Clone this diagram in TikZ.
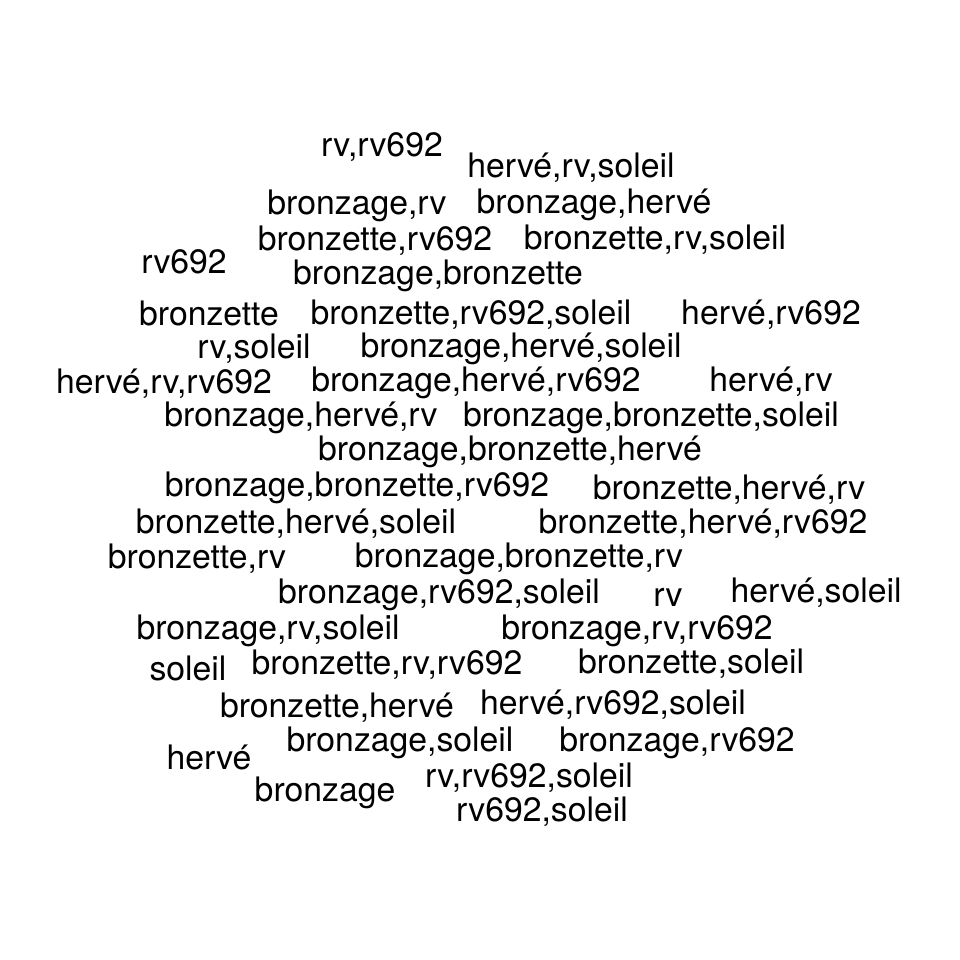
\documentclass[tikz,border=0pt]{standalone}
\usepackage{fontspec}
\setmainfont{TeX Gyre Heros}
\usepackage{tikz}

\tikzset{wd/.style={font=\fontsize{24}{28}\selectfont,inner sep=0pt,anchor=base}}

\begin{document}
\begin{tikzpicture}[x=0.025cm,y=-0.025cm]
			\useasboundingbox (0,0) rectangle (960,960);
			\node [wd] (w1) at (382,156) {rv,rv692};
			\node [wd] (w2) at (571,177) {hervé,rv,soleil};
			\node [wd] (w3) at (357,214) {bronzage,rv};
			\node [wd] (w4) at (594,213) {bronzage,hervé};
			\node [wd] (w5) at (375,250) {bronzette,rv692};
			\node [wd] (w6) at (655,249) {bronzette,rv,soleil};
			\node [wd] (w7) at (184,273) {rv692};
			\node [wd] (w8) at (438,284) {bronzage,bronzette};
			\node [wd] (w9) at (209,325) {bronzette};
			\node [wd] (w10) at (471,324) {bronzette,rv692,soleil};
			\node [wd] (w11) at (771,324) {hervé,rv692};
			\node [wd] (w12) at (254,358) {rv,soleil};
			\node [wd] (w13) at (521,357) {bronzage,hervé,soleil};
			\node [wd] (w14) at (164,393) {hervé,rv,rv692};
			\node [wd] (w15) at (476,391) {bronzage,hervé,rv692};
			\node [wd] (w16) at (771,391) {hervé,rv};
			\node [wd] (w17) at (301,426) {bronzage,hervé,rv};
			\node [wd] (w18) at (651,426) {bronzage,bronzette,soleil};
			\node [wd] (w19) at (510,460) {bronzage,bronzette,hervé};
			\node [wd] (w20) at (357,496) {bronzage,bronzette,rv692};
			\node [wd] (w21) at (729,499) {bronzette,hervé,rv};
			\node [wd] (w22) at (296,533) {bronzette,hervé,soleil};
			\node [wd] (w23) at (703,533) {bronzette,hervé,rv692};
			\node [wd] (w24) at (197,568) {bronzette,rv};
			\node [wd] (w25) at (519,567) {bronzage,bronzette,rv};
			\node [wd] (w26) at (439,603) {bronzage,rv692,soleil};
			\node [wd] (w27) at (668,606) {rv};
			\node [wd] (w28) at (816,602) {hervé,soleil};
			\node [wd] (w29) at (268,639) {bronzage,rv,soleil};
			\node [wd] (w30) at (637,639) {bronzage,rv,rv692};
			\node [wd] (w31) at (188,680) {soleil};
			\node [wd] (w32) at (387,674) {bronzette,rv,rv692};
			\node [wd] (w33) at (691,673) {bronzette,soleil};
			\node [wd] (w34) at (337,717) {bronzette,hervé};
			\node [wd] (w35) at (613,714) {hervé,rv692,soleil};
			\node [wd] (w36) at (400,751) {bronzage,soleil};
			\node [wd] (w37) at (677,751) {bronzage,rv692};
			\node [wd] (w38) at (209,769) {hervé};
			\node [wd] (w39) at (325,801) {bronzage};
			\node [wd] (w40) at (529,787) {rv,rv692,soleil};
			\node [wd] (w41) at (542,821) {rv692,soleil};
		\end{tikzpicture}
\end{document}
